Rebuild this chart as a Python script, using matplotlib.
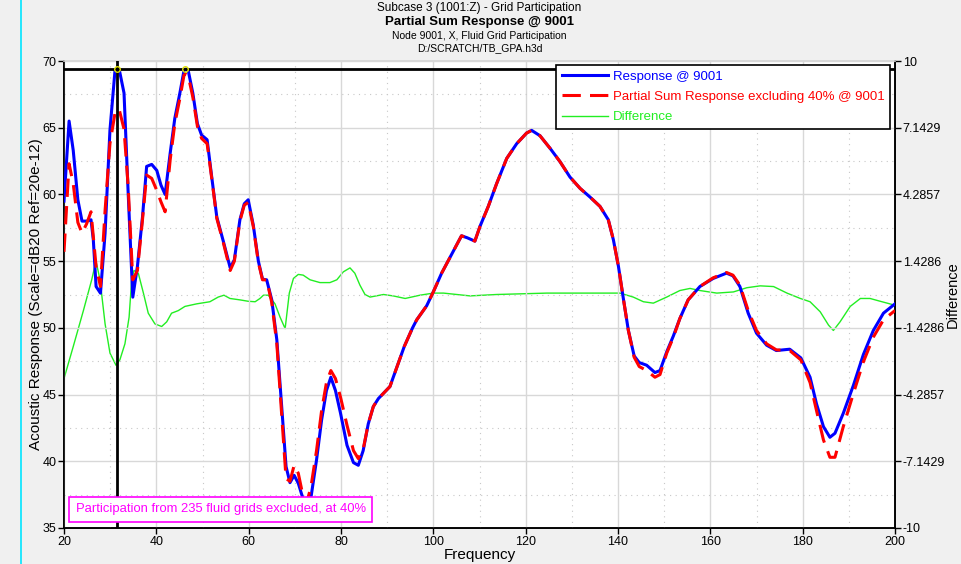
import numpy as np
import matplotlib
matplotlib.use("Agg")
import matplotlib.pyplot as plt
from matplotlib.lines import Line2D
from matplotlib.patches import Rectangle
from matplotlib.ticker import MultipleLocator, FixedLocator

plt.rcParams['font.family'] = ['Liberation Sans', 'DejaVu Sans']

# frequency points shared by the two response curves
freq = [20.0, 21.1, 22.0, 23.0, 23.9, 24.9, 25.85, 26.35, 26.95, 27.9,
        28.9, 29.95, 31.05, 31.5, 32.0, 33.0, 33.9, 34.9, 35.9, 37.0,
        37.9, 39.0, 40.1, 41.0, 41.9, 43.0, 44.0, 45.1, 46.0, 46.4,
        46.9, 47.9, 48.9, 49.8, 51.0, 52.0, 53.1, 54.5, 56.0, 56.9,
        58.1, 59.05, 59.9, 61.0, 62.1, 63.0, 63.9, 65.0, 66.1, 67.15,
        68.1, 68.95, 69.85, 70.75, 71.5, 72.5, 73.5, 74.7, 75.8, 76.85,
        77.8, 78.8, 79.9, 81.3, 82.7, 83.75, 84.8, 85.9, 87.0, 88.1,
        89.5, 90.6, 92.05, 93.7, 95.5, 96.4, 98.55, 100.0, 101.8, 103.95,
        106.1, 107.35, 109.0, 110.1, 111.9, 113.7, 115.9, 118.05, 120.2, 121.3,
        123.1, 125.3, 127.45, 129.6, 131.8, 133.95, 136.1, 137.9, 139.0, 140.1,
        141.2, 142.25, 143.5, 144.6, 146.2, 148.0, 149.1, 150.55, 152.0, 153.4,
        155.2, 157.75, 160.6, 163.5, 164.9, 166.4, 168.2, 170.0, 172.2, 174.3,
        177.2, 179.6, 181.6, 183.0, 184.5, 185.9, 187.0, 188.8, 191.0, 193.15,
        195.3, 197.5, 200.0]

response = [59.5, 65.5, 63.3, 59.6, 58.0, 58.0, 58.1, 56.6, 53.1, 52.6,
            57.1, 64.8, 69.3, 69.4, 69.3, 67.6, 60.1, 52.3, 54.6, 58.3,
            62.1, 62.25, 61.8, 60.7, 60.0, 63.1, 65.7, 67.6, 69.3, 69.4,
            69.3, 67.6, 65.3, 64.45, 64.1, 61.3, 58.3, 56.5, 54.5, 55.1,
            58.1, 59.3, 59.6, 57.7, 55.0, 53.65, 53.6, 52.1, 49.1, 44.1,
            39.6, 38.4, 38.95, 38.35, 37.5, 36.5, 37.3, 40.1, 43.1, 45.3,
            46.3, 45.3, 43.6, 41.2, 39.9, 39.7, 40.8, 42.8, 44.1, 44.7,
            45.2, 45.6, 47.0, 48.6, 50.0, 50.6, 51.65, 52.7, 54.1, 55.5,
            56.9, 56.75, 56.5, 57.6, 59.1, 60.8, 62.7, 63.8, 64.6, 64.8,
            64.4, 63.45, 62.45, 61.3, 60.45, 59.8, 59.1, 58.1, 56.6, 54.6,
            52.1, 49.8, 47.9, 47.4, 47.2, 46.65, 46.8, 48.2, 49.4, 50.7,
            52.1, 53.1, 53.7, 54.1, 53.9, 53.1, 51.1, 49.6, 48.7, 48.3,
            48.4, 47.75, 46.3, 44.3, 42.6, 41.8, 42.1, 43.6, 45.7, 48.0,
            49.8, 51.1, 51.8]

partial = [55.7, 62.3, 60.8, 57.9, 57.1, 57.8, 58.7, 56.8, 54.6, 53.1,
           58.8, 63.8, 66.1, 66.4, 66.3, 64.9, 60.6, 53.6, 54.3, 58.1,
           61.45, 61.2, 60.3, 59.45, 58.7, 62.6, 65.3, 67.2, 68.95, 69.0,
           68.9, 67.3, 65.1, 64.2, 63.8, 61.2, 58.2, 56.4, 54.3, 55.0,
           58.0, 59.2, 59.4, 57.6, 54.9, 53.6, 53.6, 51.9, 48.8, 43.5,
           38.7, 38.5, 39.7, 39.1, 37.85, 36.8, 38.1, 40.8, 43.8, 45.9,
           46.8, 46.2, 44.8, 42.7, 40.8, 40.2, 40.9, 42.8, 44.1, 44.7,
           45.2, 45.6, 47.0, 48.6, 50.0, 50.6, 51.65, 52.7, 54.1, 55.5,
           56.9, 56.75, 56.5, 57.6, 59.1, 60.8, 62.7, 63.8, 64.6, 64.8,
           64.4, 63.45, 62.45, 61.3, 60.45, 59.8, 59.1, 58.1, 56.6, 54.6,
           52.1, 49.8, 47.8, 47.1, 46.8, 46.3, 46.5, 48.1, 49.3, 50.7,
           52.1, 53.1, 53.75, 54.15, 53.95, 53.2, 51.3, 49.8, 48.8, 48.35,
           48.3, 47.6, 45.9, 43.8, 41.6, 40.3, 40.3, 42.6, 45.1, 47.45,
           49.3, 50.6, 51.3]

# difference curve (right axis)
diff_freq = [20.0, 22.0, 24.2, 26.0, 26.93, 27.8, 28.9, 29.96, 31.26, 32.1,
             33.2, 34.1, 34.66, 35.16, 36.1, 37.2, 38.25, 39.7, 41.16, 42.25,
             43.3, 44.75, 46.2, 48.75, 51.6, 53.4, 54.65, 55.95, 58.1, 59.9,
             61.4, 62.45, 63.2, 64.25, 65.7, 66.8, 67.9, 68.8, 69.7, 70.75,
             71.8, 73.3, 75.45, 77.6, 79.1, 80.5, 81.95, 83.0, 84.1, 85.2,
             86.3, 89.2, 91.3, 93.9, 97.1, 100.0, 102.2, 107.95, 113.7, 124.6,
             140.4, 143.3, 145.5, 147.65, 150.55, 153.4, 155.6, 157.75, 161.4, 165.0,
             167.9, 170.8, 173.7, 176.6, 179.5, 181.6, 183.8, 185.6, 186.65, 188.1,
             190.3, 192.5, 194.6, 196.8, 200.0]
difference = [-3.6, -2.23, -0.69, 0.63, 1.43, 0.63, -1.26, -2.51, -3.03, -2.8,
              -2.11, -0.97, 0.63, 1.03, 0.91, 0.06, -0.8, -1.26, -1.37, -1.17,
              -0.8, -0.69, -0.51, -0.4, -0.31, -0.11, -0.03, -0.17, -0.23, -0.29,
              -0.31, -0.17, -0.03, -0.03, -0.4, -0.97, -1.46, 0.06, 0.69, 0.86,
              0.83, 0.63, 0.51, 0.51, 0.63, 0.97, 1.14, 0.91, 0.4, 0.0,
              -0.11, 0.0, -0.06, -0.17, -0.03, 0.06, 0.06, -0.06, 0.0, 0.06,
              0.06, -0.11, -0.31, -0.37, -0.11, 0.17, 0.26, 0.17, 0.06, 0.11,
              0.29, 0.37, 0.34, 0.06, -0.17, -0.31, -0.74, -1.31, -1.54, -1.17,
              -0.51, -0.17, -0.17, -0.29, -0.46]

cursor_freq = 31.5
peak_freqs = [31.5, 46.3]

left_ticks = [35, 40, 45, 50, 55, 60, 65, 70]
right_ticks = np.linspace(-10, 10, 8)
x_ticks = [20, 40, 60, 80, 100, 120, 140, 160, 180, 200]

fig = plt.figure(figsize=(9.61, 5.64), dpi=100, facecolor='#f0f0f0')
rect = [64 / 961, 1 - 528 / 564, 831 / 961, 467 / 564]
# white plotting area behind both axes
fig.patches.append(Rectangle((rect[0], rect[1]), rect[2], rect[3], transform=fig.transFigure,
                             facecolor='white', edgecolor='none', zorder=-5))

ax = fig.add_axes(rect)
ax2 = ax.twinx()
ax.set_zorder(ax2.get_zorder() + 1)
ax.patch.set_visible(False)
ax2.patch.set_visible(False)

# grid
ax.set_xlim(20, 200)
ax.set_ylim(35, 70)
ax.xaxis.set_major_locator(FixedLocator(x_ticks))
ax.xaxis.set_minor_locator(MultipleLocator(10))
ax.yaxis.set_major_locator(FixedLocator(left_ticks))
ax.yaxis.set_minor_locator(MultipleLocator(2.5))
ax.grid(True, which='major', color='#d8d8d8', linewidth=1.0, linestyle='-')
ax.grid(True, which='minor', color='#c8c8c8', linewidth=0.8, linestyle=(0, (1, 4)))
ax.set_axisbelow(True)

ax2.plot(diff_freq, difference, color='#22ee22', linewidth=1.0)
ax2.set_ylim(-10, 10)
ax2.yaxis.set_major_locator(FixedLocator(right_ticks))
ax2.set_yticklabels(['%.5g' % v for v in right_ticks])

ax.plot(freq, response, color='#0000ff', linewidth=2.2, zorder=3)
ax.plot(freq, partial, color='#ff0000', linewidth=2.2, dashes=(6, 3), zorder=4)

# cursor lines
ymax = max(response)
ax.axhline(ymax, color='black', linewidth=2, zorder=5)
ax.axvline(cursor_freq, color='black', linewidth=2, zorder=5)
ax.plot(peak_freqs, [ymax] * len(peak_freqs), linestyle='none', marker='o',
        markersize=4, markerfacecolor='none', markeredgecolor='#e0e000',
        markeredgewidth=1, zorder=6)

for a in (ax, ax2):
    a.tick_params(which='minor', length=0)
    a.tick_params(which='major', length=4, width=1, pad=1.5, labelsize=9, colors='black')
    for s in a.spines.values():
        s.set_color('black')
        s.set_linewidth(1.2)
    a.spines['top'].set_color('#d8d8d8')

ax.set_xlabel('Frequency', fontsize=11, labelpad=0)
ax.set_ylabel('Acoustic Response (Scale=dB20 Ref=20e-12)', fontsize=11, va='center')
ax.yaxis.set_label_coords(-28 / 831, 0.5)
ax2.set_ylabel('Difference', fontsize=10.5, va='center')
ax2.yaxis.set_label_coords(1 + 58 / 831, 0.5)

handles = [Line2D([], [], color='#0000ff', linewidth=2.2),
           Line2D([], [], color='#ff0000', linewidth=2.2, dashes=(6, 3)),
           Line2D([], [], color='#22ee22', linewidth=1.0)]
labels = ['Response @ 9001', 'Partial Sum Response excluding 40% @ 9001', 'Difference']
leg = ax.legend(handles, labels, loc='upper right', bbox_to_anchor=(0.9945, 0.992),
                fontsize=9.5, frameon=True, fancybox=False, edgecolor='black',
                framealpha=1, borderpad=0.45, handlelength=3.5, handletextpad=0.35,
                labelspacing=0.6, borderaxespad=0)
leg.get_frame().set_linewidth(1.2)
for t, c in zip(leg.get_texts(), ['#0000ff', '#ff0000', '#22ee22']):
    t.set_color(c)
leg.set_zorder(10)

ax.text(0.014, 0.027, 'Participation from 235 fluid grids excluded, at 40%',
        transform=ax.transAxes, fontsize=9.4, color='#ff00ff', va='bottom', ha='left',
        zorder=8, bbox=dict(boxstyle='square,pad=0.5', facecolor='white',
                            edgecolor='#ff00ff', linewidth=1.2))

# title block
cx = (64 + 895) / 2 / 961
fig.text(cx, 1 - 8 / 564, 'Subcase 3 (1001:Z) - Grid Participation', ha='center', va='center', fontsize=8.5)
fig.text(cx, 1 - 22 / 564, 'Partial Sum Response @ 9001', ha='center', va='center',
         fontsize=9.5, fontweight='bold')
fig.text(cx, 1 - 36 / 564, 'Node 9001, X, Fluid Grid Participation', ha='center', va='center', fontsize=7.5)
fig.text(cx, 1 - 48 / 564, 'D:/SCRATCH/TB_GPA.h3d', ha='center', va='center', fontsize=7.5)

# cyan frame line at the left
fig.add_artist(Line2D([20.5 / 961, 20.5 / 961], [0, 1], color='#00e5ff', linewidth=1.2))

fig.savefig('out.png', dpi=100, facecolor=fig.get_facecolor())
